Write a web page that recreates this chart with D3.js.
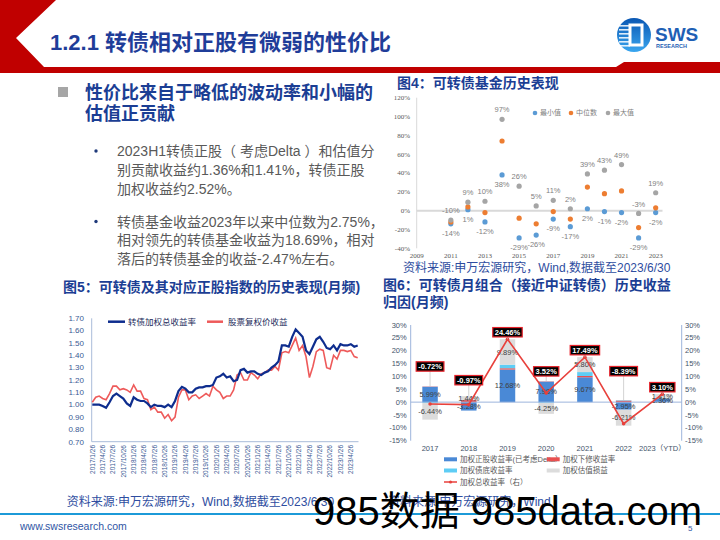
<!DOCTYPE html>
<html><head><meta charset="utf-8">
<script src="https://cdn.jsdelivr.net/npm/d3@7/dist/d3.min.js"></script>
<style>
html,body{margin:0;padding:0;background:#fff;}
svg{display:block;}
text{font-family:"Liberation Sans","Noto Sans CJK SC",sans-serif;}
</style></head><body>
<svg id="chart" width="720" height="540" xmlns="http://www.w3.org/2000/svg"></svg>
<script>
// ================= DATA =================
// Figure 4: convertible bond fund yearly returns (%)
const fundYears   = [2011,2012,2013,2014,2015,2016,2017,2018,2019,2020,2021,2022,2023];
const fundMin     = [-14,1,-12,38,-29,-26,-9,-17,2,-1,-2,-29,-2];
const fundMedian  = [-12,4,-2,74,-8,-14,-1,-9,25,18,21,-18,3];
const fundMax     = [-10,9,10,97,26,5,11,2,39,43,49,-3,19];
const fundYTicks  = [-40,-20,0,20,40,60,80,100,120];
const fundXTicks  = [2009,2011,2013,2015,2017,2019,2021,2023];
const fundSeriesNames = ["最小值","中位数","最大值"];

// Figure 5: monthly index (2017/1 .. 2023/6)
const monthLabels = ["2017/1/26","2017/4/26","2017/7/26","2017/10/26","2018/1/26","2018/4/26","2018/7/26","2018/10/26",
  "2019/1/26","2019/4/26","2019/7/26","2019/10/26","2020/1/26","2020/4/26","2020/7/26","2020/10/26",
  "2021/1/26","2021/4/26","2021/7/26","2021/10/26","2022/1/26","2022/4/26","2022/7/26","2022/10/26",
  "2023/1/26","2023/4/26"];
const cbIndex = [1.00,1.00,1.00,0.99,0.975,1.02,1.07,1.09,1.07,1.05,
  1.01,0.99,1.06,1.04,1.03,1.03,1.01,0.98,1.00,0.99,
  0.99,0.98,1.00,0.98,1.03,1.11,1.145,1.13,1.10,1.10,
  1.13,1.14,1.14,1.15,1.15,1.16,1.22,1.23,1.25,1.22,
  1.23,1.19,1.20,1.28,1.29,1.26,1.27,1.27,1.25,1.24,
  1.26,1.27,1.30,1.32,1.35,1.48,1.48,1.47,1.55,1.61,
  1.58,1.55,1.44,1.41,1.47,1.53,1.55,1.51,1.46,1.45,
  1.48,1.44,1.49,1.48,1.48,1.49,1.47,1.48];
const stockIndex = [1.02,1.06,1.07,1.05,1.04,1.09,1.15,1.15,1.12,1.13,
  1.12,1.10,1.16,1.11,1.11,1.05,1.04,0.96,0.98,0.94,
  0.94,0.89,0.92,0.87,0.90,1.06,1.12,1.12,1.04,1.07,
  1.08,1.05,1.07,1.09,1.07,1.15,1.12,1.10,1.05,1.07,
  1.07,1.12,1.24,1.26,1.20,1.20,1.26,1.24,1.21,1.25,
  1.26,1.28,1.28,1.31,1.28,1.42,1.43,1.42,1.48,1.54,
  1.44,1.48,1.39,1.22,1.31,1.43,1.45,1.44,1.30,1.29,
  1.40,1.37,1.44,1.44,1.43,1.44,1.39,1.38];
const idxYTicks = [0.7,0.8,0.9,1.0,1.1,1.2,1.3,1.4,1.5,1.6,1.7];
const idxSeriesNames = ["转债加权总收益率","股票复权价收益"];

// Figure 6: return attribution (%)
const attrYears = ["2017","2018","2019","2020","2021","2022","2023（YTD）"];
const attrStock = [5.99,-3.28,12.68,7.98,9.67,-2.95,1.36];
const attrDown  = [0.10,0.80,0.50,0.10,0.50,0.60,0.10];
const attrBond  = [-0.37,0.07,1.39,-0.31,1.52,0.17,0.23];
const attrVal   = [-6.44,1.44,9.89,-4.25,5.80,-6.21,1.41];
const attrTotal = [-0.72,-0.97,24.46,3.52,17.49,-8.39,3.10];
const attrTicks = [-15,-10,-5,0,5,10,15,20,25,30];
const attrSeriesNames = ["加权正股收益率(已考虑Delta）","加权下修收益率","加权债底收益率","加权估值损益","加权总收益率（右）"];

// ================= DRAW =================
const svg = d3.select("#chart");
const NAVY = "#1b3e94";
const CJK = '"Noto Sans CJK SC",sans-serif';
const defs = svg.append("defs");

// ---- header ----
svg.append("polygon")
  .attr("points","0,0 56,0 16,38 44,67 616,67 624,62 720,62 720,73 0,73")
  .attr("fill","#c00000");
svg.append("text").attr("x",50).attr("y",50).attr("font-size",22).attr("font-weight",700)
  .attr("fill","#1f3d99").attr("font-family",CJK).text("1.2.1 转债相对正股有微弱的性价比");

// logo
const lg = defs.append("linearGradient").attr("id","lg").attr("x1",0).attr("y1",0).attr("x2",0).attr("y2",1);
lg.append("stop").attr("offset","0").attr("stop-color","#0a57b3");
lg.append("stop").attr("offset","1").attr("stop-color","#3aa6ef");
const logo = svg.append("g");
logo.append("circle").attr("cx",634).attr("cy",35).attr("r",17).attr("fill","url(#lg)");
d3.range(6).forEach(i=>{
  logo.append("rect").attr("x",619).attr("y",25+i*4).attr("width",11).attr("height",1.6).attr("fill","#fff").attr("opacity",0.85);
});
logo.append("rect").attr("x",630).attr("y",25).attr("width",12).attr("height",20).attr("fill","none")
  .attr("stroke","#fff").attr("stroke-width",3);
logo.append("text").attr("x",655).attr("y",41).attr("font-size",19).attr("font-weight",700)
  .attr("fill","#1f5fb5").text("SWS");
logo.append("text").attr("x",656).attr("y",48).attr("font-size",5.5).attr("font-weight",700)
  .attr("fill","#1f5fb5").text("RESEARCH");

// ---- left text block ----
svg.append("rect").attr("x",58).attr("y",87).attr("width",10).attr("height",10).attr("fill","#a6a6a6");
const head = svg.append("g").attr("font-family",CJK).attr("font-size",18).attr("font-weight",700).attr("fill",NAVY);
head.append("text").attr("x",85).attr("y",98.5).text("性价比来自于略低的波动率和小幅的");
head.append("text").attr("x",85).attr("y",119.5).text("估值正贡献");

const para = svg.append("g").attr("font-size",14).attr("fill","#595959")
  .style("font-family",'"DejaVu Sans","Noto Sans CJK SC",sans-serif');
const paraLines = [
  ["2023H1转债正股（ 考虑Delta ）和估值分",156,true],
  ["别贡献收益约1.36%和1.41%，转债正股",175,false],
  ["加权收益约2.52%。",193.5,false],
  ["转债基金收益2023年以来中位数为2.75%，",226.5,true],
  ["相对领先的转债基金收益为18.69%，相对",245,false],
  ["落后的转债基金的收益-2.47%左右。",264,false]
];
paraLines.forEach(([s,y,b])=>{
  para.append("text").attr("x",117).attr("y",y).text(s);
  if(b) svg.append("circle").attr("cx",96).attr("cy",y-5).attr("r",1.7).attr("fill","#1f3a7a");
});

// ---- Figure 4 ----
svg.append("text").attr("x",397).attr("y",88).attr("font-size",14).attr("font-weight",700)
  .attr("fill",NAVY).attr("font-family",CJK).text("图4：可转债基金历史表现");
const x4 = d3.scaleLinear().domain([2009,2023.4]).range([416.7,662.5]);
const y4 = d3.scaleLinear().domain([-40,120]).range([248.3,97.7]);
const g4 = svg.append("g");
g4.append("line").attr("x1",x4(2009)).attr("x2",x4(2009)).attr("y1",y4(120)).attr("y2",y4(-40)).attr("stroke","#d9d9d9").attr("stroke-width",1);
g4.append("line").attr("x1",x4(2009)).attr("x2",x4(2023.4)).attr("y1",y4(0)).attr("y2",y4(0)).attr("stroke","#d9d9d9").attr("stroke-width",2);
g4.selectAll("text.yt").data(fundYTicks).join("text").attr("class","yt")
  .attr("x",410).attr("y",d=>y4(d)).attr("dy","0.35em").attr("text-anchor","end")
  .attr("font-size",7).attr("fill","#595959").style("font-family",'"Liberation Serif",serif').text(d=>d+"%");
g4.selectAll("text.xt").data(fundXTicks).join("text").attr("class","xt")
  .attr("x",d=>x4(d)).attr("y",258).attr("text-anchor","middle")
  .attr("font-size",7).attr("fill","#595959").style("font-family",'"Liberation Serif",serif').text(d=>d);
const fundCols = ["#5b9bd5","#ed7d31","#a5a5a5"];
[fundMin,fundMedian,fundMax].forEach((arr,k)=>{
  g4.selectAll("circle.s"+k).data(arr).join("circle").attr("class","s"+k)
    .attr("cx",(d,i)=>x4(fundYears[i])).attr("cy",d=>y4(d)).attr("r",2.6).attr("fill",fundCols[k]);
});
g4.selectAll("text.mx").data(fundMax).join("text").attr("class","mx")
  .attr("x",(d,i)=>x4(fundYears[i])).attr("y",d=>y4(d)-9.5).attr("dy","0.35em").attr("text-anchor","middle")
  .attr("font-size",7.5).attr("fill","#7f7f7f").text(d=>d+"%");
g4.selectAll("text.mn").data(fundMin).join("text").attr("class","mn")
  .attr("x",(d,i)=>x4(fundYears[i])).attr("y",d=>y4(d)+9.5).attr("dy","0.35em").attr("text-anchor","middle")
  .attr("font-size",7.5).attr("fill","#7f7f7f").text(d=>d+"%");
const leg4 = g4.append("g");
[535,571,608].forEach((lx,k)=>{
  leg4.append("circle").attr("cx",lx).attr("cy",113).attr("r",2.3).attr("fill",fundCols[k]);
  leg4.append("text").attr("x",lx+5).attr("y",113).attr("dy","0.35em").attr("font-size",7)
    .attr("fill","#7f7f7f").attr("font-family",CJK).text(fundSeriesNames[k]);
});
svg.append("text").attr("x",403).attr("y",272).attr("font-size",12).attr("fill","#2e4da0")
  .attr("font-family",CJK).text("资料来源:申万宏源研究，Wind,数据截至2023/6/30");

// ---- Figure 5 ----
svg.append("text").attr("x",63).attr("y",292).attr("font-size",14).attr("font-weight",700)
  .attr("fill",NAVY).attr("font-family",CJK).text("图5：可转债及其对应正股指数的历史表现(月频)");
const x5 = d3.scaleLinear().domain([0,cbIndex.length-1]).range([92.3,357.7]);
const y5 = d3.scaleLinear().domain([0.7,1.7]).range([441.7,318.3]);
const g5 = svg.append("g");
g5.append("line").attr("x1",91.7).attr("x2",91.7).attr("y1",y5(1.7)).attr("y2",y5(0.7)).attr("stroke","#a9bcd9");
g5.append("line").attr("x1",91.7).attr("x2",358.5).attr("y1",y5(0.7)).attr("y2",y5(0.7)).attr("stroke","#a9bcd9");
g5.selectAll("text.yt").data(idxYTicks).join("text").attr("class","yt")
  .attr("x",84).attr("y",d=>y5(d)).attr("dy","0.35em").attr("text-anchor","end")
  .attr("font-size",8).attr("fill","#3a5a95").text(d=>d.toFixed(2));
g5.selectAll("text.xt").data(monthLabels).join("text").attr("class","xt")
  .attr("transform",(d,i)=>`translate(${x5(i*3)},445) rotate(-90)`).attr("dy","0.35em")
  .attr("text-anchor","end").attr("font-size",6.5).attr("fill","#3a5a95").text(d=>d);
const line5 = d3.line().x((d,i)=>x5(i)).y(d=>y5(d));
g5.append("path").datum(stockIndex).attr("d",line5).attr("fill","none").attr("stroke","#ee5a5a").attr("stroke-width",1.6);
g5.append("path").datum(cbIndex).attr("d",line5).attr("fill","none").attr("stroke","#0e2d8e").attr("stroke-width",2.2);
g5.append("line").attr("x1",108).attr("x2",125).attr("y1",321.7).attr("y2",321.7).attr("stroke","#0e2d8e").attr("stroke-width",2.5);
g5.append("text").attr("x",128).attr("y",321.7).attr("dy","0.35em").attr("font-size",8.5).attr("fill","#1a2a5a")
  .attr("font-family",CJK).text(idxSeriesNames[0]);
g5.append("line").attr("x1",207).attr("x2",223).attr("y1",321.7).attr("y2",321.7).attr("stroke","#ee5a5a").attr("stroke-width",2.5);
g5.append("text").attr("x",228).attr("y",321.7).attr("dy","0.35em").attr("font-size",8.5).attr("fill","#1a2a5a")
  .attr("font-family",CJK).text(idxSeriesNames[1]);
svg.append("text").attr("x",66.7).attr("y",506).attr("font-size",12).attr("fill","#2e4da0")
  .attr("font-family",CJK).text("资料来源:申万宏源研究，Wind,数据截至2023/6/30");

// ---- Figure 6 ----
const t6 = svg.append("g").attr("font-size",14).attr("font-weight",700).attr("fill",NAVY).attr("font-family",CJK);
t6.append("text").attr("x",383).attr("y",290).text("图6：可转债月组合（接近中证转债）历史收益");
t6.append("text").attr("x",383).attr("y",307).text("归因(月频)");
const x6 = d3.scaleBand().domain(attrYears).range([410.7,681.7]).paddingInner(0.6).paddingOuter(0.3);
const y6 = d3.scaleLinear().domain([-15,30]).range([440.7,325]);
const g6 = svg.append("g");
const axCol = "#9db4dc";
g6.append("line").attr("x1",410.7).attr("x2",410.7).attr("y1",y6(30)).attr("y2",y6(-15)).attr("stroke",axCol);
g6.append("line").attr("x1",681.7).attr("x2",681.7).attr("y1",y6(30)).attr("y2",y6(-15)).attr("stroke",axCol);
g6.selectAll("text.yl").data(attrTicks).join("text").attr("class","yl")
  .attr("x",406.7).attr("y",d=>y6(d)).attr("dy","0.35em").attr("text-anchor","end")
  .attr("font-size",7.5).attr("fill","#44546a").text(d=>d+"%");
g6.selectAll("text.yr").data(attrTicks).join("text").attr("class","yr")
  .attr("x",685).attr("y",d=>y6(d)).attr("dy","0.35em").attr("text-anchor","start")
  .attr("font-size",7.5).attr("fill","#44546a").text(d=>d+"%");
g6.selectAll("text.xl").data(attrYears).join("text").attr("class","xl")
  .attr("x",d=>x6(d)+x6.bandwidth()/2).attr("y",451).attr("text-anchor","middle")
  .attr("font-size",7.5).attr("fill","#44546a").attr("font-family",CJK).text(d=>d);

const rows = attrYears.map((yr,i)=>({year:yr,stock:attrStock[i],down:attrDown[i],bond:attrBond[i],val:attrVal[i]}));
const keys = ["stock","down","bond","val"];
const cols6 = {stock:"#4a89d6",down:"#e85050",bond:"#5ecdf5",val:"#dcdcdc"};
const stacked = d3.stack().keys(keys).offset(d3.stackOffsetDiverging)(rows);
stacked.forEach(s=>{
  g6.selectAll("rect.b"+s.key).data(s).join("rect").attr("class","b"+s.key)
    .attr("x",d=>x6(d.data.year)).attr("width",x6.bandwidth())
    .attr("y",d=>y6(Math.max(d[0],d[1]))).attr("height",d=>Math.abs(y6(d[0])-y6(d[1])))
    .attr("fill",cols6[s.key]);
});
g6.append("line").attr("x1",410.7).attr("x2",681.7).attr("y1",y6(0)).attr("y2",y6(0)).attr("stroke",axCol);
// segment labels
stacked.filter(s=>s.key==="stock"||s.key==="val").forEach(s=>{
  g6.selectAll("text.l"+s.key).data(s).join("text").attr("class","l"+s.key)
    .attr("x",d=>x6(d.data.year)+x6.bandwidth()/2).attr("y",d=>y6((d[0]+d[1])/2)).attr("dy","0.35em")
    .attr("text-anchor","middle").attr("font-size",7.5).attr("fill","#404040")
    .text(d=>d.data[s.key].toFixed(2)+"%");
});
// total line
const cx6 = d=>x6(d)+x6.bandwidth()/2;
const line6 = d3.line().x((d,i)=>cx6(attrYears[i])).y(d=>y6(d));
g6.append("path").datum(attrTotal).attr("d",line6).attr("fill","none").attr("stroke","#e8413c").attr("stroke-width",1.6);
g6.selectAll("circle.t").data(attrTotal).join("circle").attr("class","t")
  .attr("cx",(d,i)=>cx6(attrYears[i])).attr("cy",d=>y6(d)).attr("r",1.8).attr("fill","#e8413c");
// callouts
const calloutLift = [20,16,7,10,7,29,7];
attrTotal.forEach((v,i)=>{
  const posTop = stacked.reduce((m,s)=>Math.max(m,s[i][1]),0);
  const topY = Math.min(y6(posTop), y6(v));
  const cy = topY - calloutLift[i];
  const cx = cx6(attrYears[i]);
  const tg = g6.append("g");
  if (topY - (cy+4.5) > 1.5)
    tg.append("line").attr("x1",cx).attr("x2",cx).attr("y1",cy+4.5).attr("y2",topY).attr("stroke","#bfbfbf").attr("stroke-width",0.7);
  const t = tg.append("text").attr("x",cx).attr("y",cy).attr("dy","0.35em").attr("text-anchor","middle")
    .attr("font-size",7.5).attr("font-weight",700).attr("fill","#fff").text(v.toFixed(2)+"%");
  const w = t.node().getComputedTextLength()+4;
  tg.insert("rect","text").attr("x",cx-w/2).attr("y",cy-4.7).attr("width",w).attr("height",9.4)
    .attr("fill","#000").attr("stroke","#e8222a").attr("stroke-width",1.2);
});
// legend
const leg6 = svg.append("g").attr("font-size",7.5).attr("fill","#595959").attr("font-family",CJK);
const legItems = [
  {x:444,y:459.3,type:"rect",c:cols6.stock,n:attrSeriesNames[0]},
  {x:546.7,y:459.3,type:"rect",c:cols6.down,n:attrSeriesNames[1]},
  {x:444,y:470.5,type:"rect",c:cols6.bond,n:attrSeriesNames[2]},
  {x:546.7,y:470.5,type:"rect",c:cols6.val,n:attrSeriesNames[3]},
  {x:444,y:482,type:"line",c:"#e8413c",n:attrSeriesNames[4]}
];
legItems.forEach(it=>{
  if(it.type==="rect") leg6.append("rect").attr("x",it.x).attr("y",it.y-2).attr("width",13).attr("height",4).attr("fill",it.c);
  else {
    leg6.append("line").attr("x1",it.x).attr("x2",it.x+13).attr("y1",it.y).attr("y2",it.y).attr("stroke",it.c).attr("stroke-width",1.5);
    leg6.append("circle").attr("cx",it.x+6.5).attr("cy",it.y).attr("r",1.6).attr("fill",it.c);
  }
  leg6.append("text").attr("x",it.x+16).attr("y",it.y).attr("dy","0.35em").text(it.n);
});
svg.append("text").attr("x",388).attr("y",506).attr("font-size",12).attr("fill","#2e4da0")
  .attr("font-family",CJK).text("资料来源:申万宏源研究，Wind");

// ---- footer ----
svg.append("line").attr("x1",0).attr("x2",720).attr("y1",514).attr("y2",514).attr("stroke","#1c9ad8").attr("stroke-width",2);
svg.append("text").attr("x",20).attr("y",530).attr("font-size",10.5).attr("fill","#2f55a4").text("www.swsresearch.com");
svg.append("text").attr("x",688).attr("y",531).attr("font-size",8).attr("fill","#2f55a4").text("5");

// ---- watermark ----
svg.append("text").attr("x",313).attr("y",525).attr("font-size",40).attr("fill","#000").text("985数据 985data.com");
</script>
</body></html>
